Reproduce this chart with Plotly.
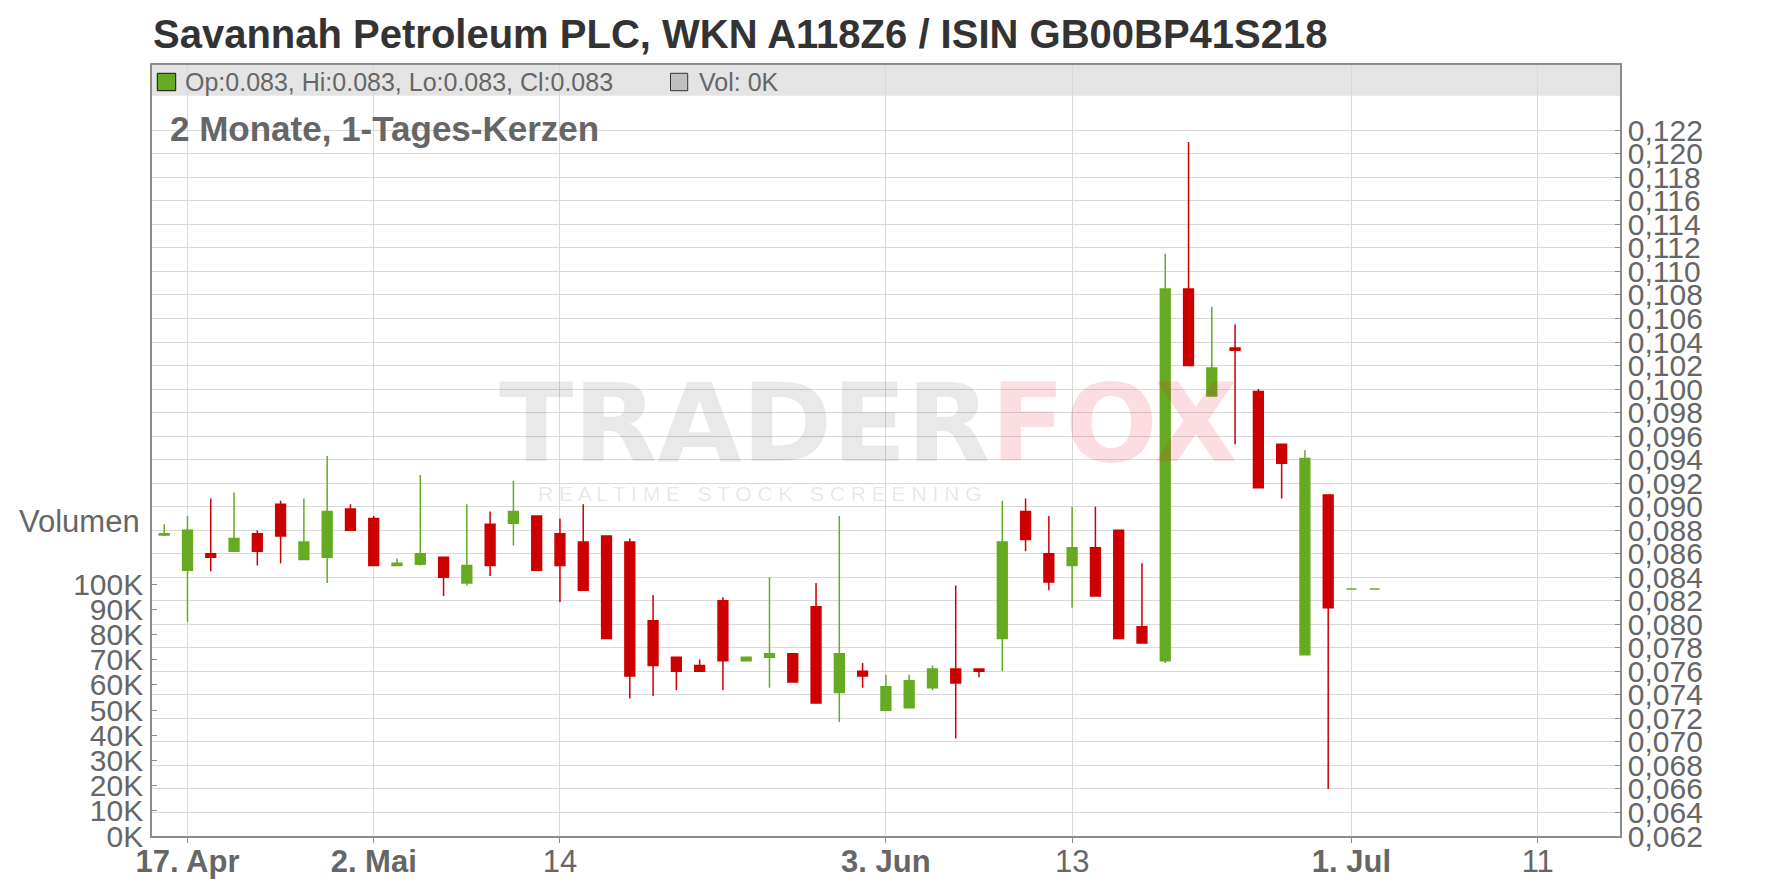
import plotly.graph_objects as go
import pandas as pd

# ---------------- data ----------------
dates = [
    "2024-04-16", "2024-04-17", "2024-04-18", "2024-04-19", "2024-04-22", "2024-04-23",
    "2024-04-24", "2024-04-25", "2024-04-26", "2024-05-02", "2024-05-03", "2024-05-06",
    "2024-05-07", "2024-05-08", "2024-05-09", "2024-05-10", "2024-05-13", "2024-05-14",
    "2024-05-15", "2024-05-16", "2024-05-17", "2024-05-20", "2024-05-21", "2024-05-22",
    "2024-05-23", "2024-05-24", "2024-05-27", "2024-05-28", "2024-05-29", "2024-05-30",
    "2024-05-31", "2024-06-03", "2024-06-04", "2024-06-05", "2024-06-06", "2024-06-07",
    "2024-06-10", "2024-06-11", "2024-06-12", "2024-06-13", "2024-06-14", "2024-06-17",
    "2024-06-18", "2024-06-19", "2024-06-20", "2024-06-21", "2024-06-24", "2024-06-25",
    "2024-06-26", "2024-06-27", "2024-06-28", "2024-07-01", "2024-07-02",
]
opens = [
    0.0876, 0.0846, 0.0860, 0.0862, 0.0877, 0.0902, 0.0855, 0.0857, 0.0898, 0.0890,
    0.0850, 0.0851, 0.0857, 0.0835, 0.0885, 0.0886, 0.0892, 0.0877, 0.0870, 0.0875,
    0.0870, 0.0803, 0.0772, 0.0765, 0.0820, 0.0769, 0.0772, 0.0775, 0.0815, 0.0742,
    0.0760, 0.0727, 0.0729, 0.0746, 0.0762, 0.0762, 0.0788, 0.0896, 0.0860, 0.0850,
    0.0865, 0.0880, 0.0798, 0.0769, 0.1085, 0.0994, 0.1035, 0.0998, 0.0953, 0.0774,
    0.0910, 0.0830, 0.0830,
]
highs = [
    0.0885, 0.0892, 0.0907, 0.0912, 0.0880, 0.0905, 0.0907, 0.0943, 0.0902, 0.0892,
    0.0856, 0.0927, 0.0857, 0.0902, 0.0896, 0.0922, 0.0892, 0.0890, 0.0902, 0.0875,
    0.0873, 0.0825, 0.0772, 0.0770, 0.0823, 0.0772, 0.0840, 0.0775, 0.0835, 0.0892,
    0.0767, 0.0757, 0.0757, 0.0765, 0.0833, 0.0762, 0.0905, 0.0907, 0.0892, 0.0900,
    0.0900, 0.0880, 0.0852, 0.1115, 0.1210, 0.1070, 0.1055, 0.1000, 0.0953, 0.0948,
    0.0910, 0.0830, 0.0830,
]
lows = [
    0.0875, 0.0802, 0.0845, 0.0862, 0.0850, 0.0852, 0.0855, 0.0835, 0.0880, 0.0850,
    0.0850, 0.0850, 0.0824, 0.0833, 0.0841, 0.0867, 0.0846, 0.0819, 0.0829, 0.0788,
    0.0737, 0.0739, 0.0744, 0.0760, 0.0744, 0.0769, 0.0746, 0.0751, 0.0733, 0.0717,
    0.0746, 0.0727, 0.0729, 0.0744, 0.0703, 0.0755, 0.0760, 0.0862, 0.0829, 0.0814,
    0.0824, 0.0788, 0.0784, 0.0767, 0.1020, 0.0994, 0.0953, 0.0916, 0.0907, 0.0774,
    0.0660, 0.0830, 0.0830,
]
closes = [
    0.0877, 0.0880, 0.0857, 0.0873, 0.0862, 0.0875, 0.0870, 0.0896, 0.0880, 0.0850,
    0.0852, 0.0860, 0.0840, 0.0850, 0.0850, 0.0896, 0.0846, 0.0850, 0.0829, 0.0788,
    0.0756, 0.0765, 0.0760, 0.0760, 0.0769, 0.0772, 0.0775, 0.0751, 0.0733, 0.0775,
    0.0756, 0.0747, 0.0752, 0.0762, 0.0750, 0.0760, 0.0870, 0.0872, 0.0836, 0.0865,
    0.0824, 0.0788, 0.0784, 0.1085, 0.1020, 0.1018, 0.1033, 0.0916, 0.0937, 0.0941,
    0.0814, 0.0830, 0.0830,
]

tick_dates = ["2024-04-17", "2024-05-02", "2024-05-14", "2024-06-03",
              "2024-06-13", "2024-07-01", "2024-07-11"]
tick_labels = ["<b>17. Apr</b>", "<b>2. Mai</b>", "14", "<b>3. Jun</b>",
               "13", "<b>1. Jul</b>", "11"]

price_ticks = [round(0.062 + 0.002 * i, 3) for i in range(31)]
volume_ticks = list(range(0, 100001, 10000))
volume_labels = [f"{v // 1000}K" for v in volume_ticks]

title_text = "Savannah Petroleum PLC, WKN A118Z6 / ISIN GB00BP41S218"
legend_text = "Op:0.083, Hi:0.083, Lo:0.083, Cl:0.083"
vol_text = "Vol: 0K"
period_text = "2 Monate, 1-Tages-Kerzen"

# ---------------- ordinal positions ----------------
pos = {d: i for i, d in enumerate(dates)}
last_day = pd.Timestamp(dates[-1])


def ordinal(d):
    if d in pos:
        return pos[d]
    return len(dates) - 1 + len(pd.bdate_range(last_day, pd.Timestamp(d))) - 1


xs = [pos[d] for d in dates]
tickvals = [ordinal(d) for d in tick_dates]

# ---------------- geometry ----------------
W, H = 1776, 888
L, R, T, B = 152, 1620, 65, 836


def px(x):
    return (x - L) / (R - L)


def py(y):
    return (B - y) / (B - T)


GREEN = "#66aa22"
RED = "#cc0000"
GRID = "#d9d9d9"
AX = "#8c8c8c"
TXT = "#666666"
FONT = "Liberation Sans, Arial, sans-serif"

fig = go.Figure()
fig.add_trace(go.Candlestick(
    x=xs, open=opens, high=highs, low=lows, close=closes,
    increasing=dict(line=dict(color=GREEN, width=1.5), fillcolor=GREEN),
    decreasing=dict(line=dict(color=RED, width=1.5), fillcolor=RED),
    whiskerwidth=0, yaxis="y", showlegend=False, hoverinfo="skip",
))
fig.add_trace(go.Scatter(x=[], y=[], yaxis="y2", showlegend=False))

# price axis range from pixel geometry: 0.062 at bottom, 0.122 at y=130.3
p_per_px = 0.060 / (B - 130.3)
price_top = 0.062 + (B - T) * p_per_px
vol_top = 100000 * (B - T) / (B - 584.3)

fig.update_layout(
    width=W, height=H,
    margin=dict(l=L, r=W - R, t=T, b=H - B, pad=0, autoexpand=False),
    paper_bgcolor="white", plot_bgcolor="white",
    separators=",.",
    font=dict(family=FONT, color=TXT),
    boxgap=0.58, boxgroupgap=0,
    xaxis=dict(
        range=[(L - (164.2)) / 23.28, (R - 164.2) / 23.28],
        tickvals=tickvals, ticktext=tick_labels,
        tickfont=dict(size=31, color=TXT),
        showgrid=True, gridcolor=GRID, gridwidth=1,
        ticks="outside", ticklen=5, tickcolor=AX,
        showline=True, linecolor=AX, linewidth=1.5, mirror=True,
        zeroline=False, rangeslider=dict(visible=False), fixedrange=True,
        automargin=False, ticklabelstandoff=-8,
    ),
    yaxis=dict(
        side="right", range=[0.062, price_top],
        tickvals=price_ticks, tickformat=".3f",
        tickfont=dict(size=30, color=TXT),
        showgrid=True, gridcolor=GRID, gridwidth=1,
        ticks="inside", ticklen=5, tickcolor=AX,
        showline=True, linecolor=AX, linewidth=1.5,
        zeroline=False, ticklabelstandoff=0, automargin=False,
    ),
    yaxis2=dict(
        overlaying="y", side="left", range=[0, vol_top],
        tickvals=volume_ticks, ticktext=volume_labels,
        tickfont=dict(size=30, color=TXT),
        showgrid=False, ticks="inside", ticklen=5, tickcolor=AX,
        showline=True, linecolor=AX, linewidth=1.5,
        zeroline=False, ticklabelstandoff=1, automargin=False,
    ),
)

shapes = [
    dict(type="rect", xref="paper", yref="paper", x0=0, x1=1, y0=py(95.7), y1=1,
         fillcolor="#e4e4e4", line=dict(width=0), layer="below"),
    dict(type="rect", xref="paper", yref="paper", x0=px(157.3), x1=px(175.7),
         y0=py(90.7), y1=py(73.3), fillcolor=GREEN, line=dict(color="#111111", width=1)),
    dict(type="rect", xref="paper", yref="paper", x0=px(670.5), x1=px(687.7),
         y0=py(90.7), y1=py(73.3), fillcolor="#c0c0c0", line=dict(color="#333333", width=1)),
]
fig.update_layout(shapes=shapes)

ann = [
    dict(text=f"<b>{title_text}</b>", x=px(151), y=py(34.5), xanchor="left", yanchor="middle",
         font=dict(size=40, color="#333333")),
    dict(text=legend_text, x=px(183), y=py(81.5), xanchor="left", yanchor="middle",
         font=dict(size=25, color=TXT)),
    dict(text=vol_text, x=px(697), y=py(81.5), xanchor="left", yanchor="middle",
         font=dict(size=25, color=TXT)),
    dict(text=f"<b>{period_text}</b>", x=px(168), y=py(128), xanchor="left", yanchor="middle",
         font=dict(size=35, color=TXT)),
    dict(text="Volumen", x=px(142), y=py(521), xanchor="right", yanchor="middle",
         font=dict(size=31, color=TXT)),
    # watermark
    dict(text="<b><span style='color:rgba(0,0,0,0.085)'>TRADER</span>"
              "<span style='color:rgba(235,30,55,0.15)'>FOX</span></b>",
         x=px(868), y=py(423), xanchor="center", yanchor="middle",
         font=dict(size=109, family="DejaVu Sans, sans-serif")),
    dict(text="R E A L T I M E   S T O C K   S C R E E N I N G",
         x=px(759), y=py(493), xanchor="center", yanchor="middle",
         font=dict(size=21, color="rgba(0,0,0,0.10)")),
]
for a in ann:
    a.update(xref="paper", yref="paper", showarrow=False)
fig.update_layout(annotations=ann)

fig.write_html(
    "out.html",
    config={"displayModeBar": False},
    post_script="document.body.style.margin='0';document.body.style.overflow='hidden';",
)
